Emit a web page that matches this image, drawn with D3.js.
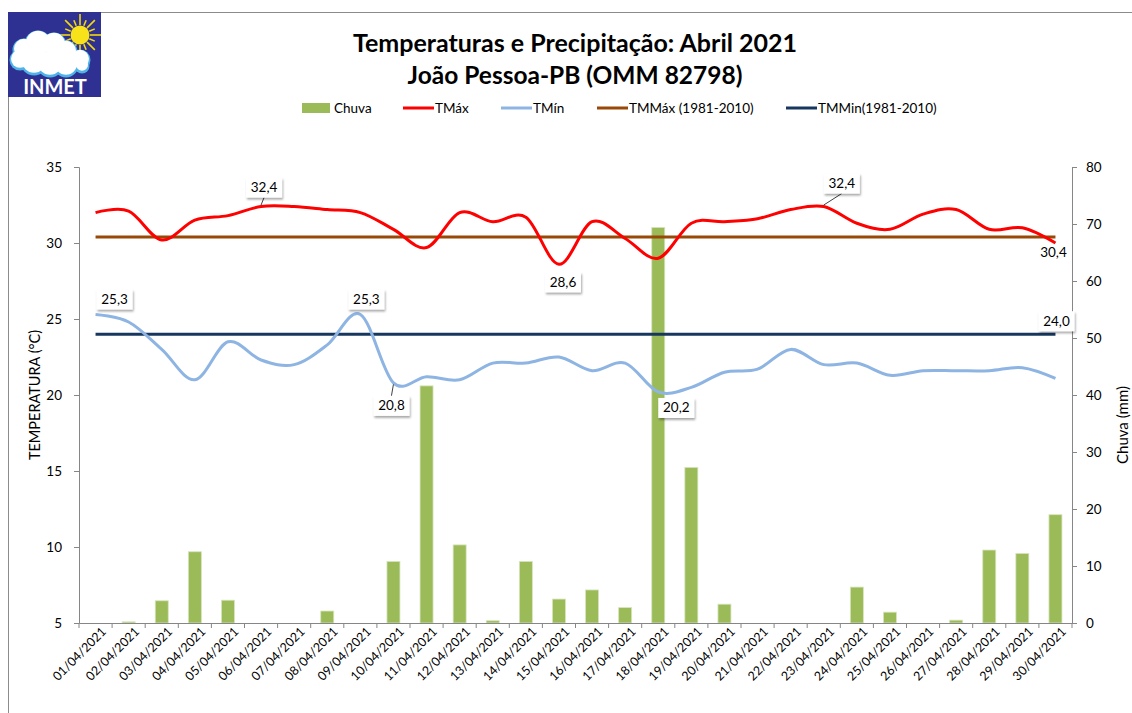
<!DOCTYPE html>
<html><head><meta charset="utf-8">
<script src="https://cdn.jsdelivr.net/npm/d3@7"></script>
<style>
body{margin:0;background:#fff}
svg{display:block}
text{font-family:Lato,'Open Sans',sans-serif}
</style>
</head><body>
<svg id="c" width="1132" height="713"></svg>
<script>
// ---------- data ----------
const dates = ["01/04/2021","02/04/2021","03/04/2021","04/04/2021","05/04/2021","06/04/2021","07/04/2021","08/04/2021","09/04/2021","10/04/2021","11/04/2021","12/04/2021","13/04/2021","14/04/2021","15/04/2021","16/04/2021","17/04/2021","18/04/2021","19/04/2021","20/04/2021","21/04/2021","22/04/2021","23/04/2021","24/04/2021","25/04/2021","26/04/2021","27/04/2021","28/04/2021","29/04/2021","30/04/2021"];
const chuva = [0,0.2,3.9,12.5,4.0,0,0,2.1,0,10.8,41.6,13.7,0.4,10.8,4.2,5.8,2.7,69.4,27.3,3.3,0,0,0,6.3,1.9,0,0.5,12.8,12.2,19.0];
const tmax  = [32.0,32.1,30.2,31.5,31.8,32.4,32.4,32.2,32.0,30.9,29.7,32.0,31.4,31.7,28.6,31.4,30.3,29.0,31.3,31.4,31.6,32.2,32.4,31.3,30.9,31.9,32.2,30.9,31.0,30.0];
const tmin  = [25.3,24.8,23.0,21.0,23.5,22.3,22.0,23.3,25.3,20.8,21.2,21.0,22.1,22.1,22.5,21.6,22.1,20.2,20.5,21.5,21.7,23.0,22.0,22.1,21.3,21.6,21.6,21.6,21.8,21.1];
const tmmax = dates.map(() => 30.4);
const tmmin = dates.map(() => 24.0);
const tempTicks = [5,10,15,20,25,30,35];
const rainTicks = [0,10,20,30,40,50,60,70,80];
const legendNames = ["Chuva","TMáx","TMín","TMMáx (1981-2010)","TMMin(1981-2010)"];
const titleLines = ["Temperaturas e Precipitação: Abril 2021","João Pessoa-PB (OMM 82798)"];

// ---------- setup ----------
const svg = d3.select("#c");
const C = {bar:"#9BBB59", tmax:"#FF0000", tmin:"#8DB4E2", tmmax:"#984807", tmmin:"#17375E", axis:"#868686"};
const L = 79, R = 1072, T = 167, B = 623;

const x = d3.scaleBand().domain(dates).range([L, R]).padding(0);
const yT = d3.scaleLinear().domain([5,35]).range([B, T]);
const yP = d3.scaleLinear().domain([0,80]).range([B, T]);
const cx = d => x(d) + x.bandwidth()/2;

const defs = svg.append("defs");
const f = defs.append("filter").attr("id","sh").attr("x","-30%").attr("y","-30%").attr("width","160%").attr("height","170%");
f.append("feDropShadow").attr("dx",1).attr("dy",2).attr("stdDeviation",1.3).attr("flood-color","#000").attr("flood-opacity",0.35);

// frame
svg.append("line").attr("x1",101).attr("x2",1132).attr("y1",12.5).attr("y2",12.5).attr("stroke","#8c8c8c").attr("stroke-width",1);
svg.append("line").attr("x1",8.5).attr("x2",8.5).attr("y1",97).attr("y2",713).attr("stroke","#8c8c8c").attr("stroke-width",1);

// logo
const lg = svg.append("g");
lg.append("rect").attr("x",8).attr("y",12).attr("width",93).attr("height",85).attr("fill","#2E3192");
const sun = lg.append("g").attr("transform","translate(80,35)");
d3.range(16).forEach(i=>{
  const a = i/16*2*Math.PI;
  sun.append("line").attr("x1",Math.cos(a)*10).attr("y1",Math.sin(a)*10)
    .attr("x2",Math.cos(a)*(i%2?16:21)).attr("y2",Math.sin(a)*(i%2?16:21))
    .attr("stroke","#F5D90A").attr("stroke-width",1.6);
});
sun.append("circle").attr("r",9.5).attr("fill","#F8E21A");
const cloud = [[24,50,10],[38,44,12],[54,45,11],[66,52,10],[80,60,9],[20,60,9],[34,62,12],[50,64,12],[66,65,11],[82,66,6]];
lg.selectAll("circle.cb").data(cloud).join("circle").attr("cx",d=>d[0]).attr("cy",d=>d[1]).attr("r",d=>d[2]+1.5).attr("fill","#4FB3E8");
lg.selectAll("circle.cw").data(cloud).join("circle").attr("cx",d=>d[0]).attr("cy",d=>d[1]-1.2).attr("r",d=>d[2]).attr("fill","#fff");
lg.append("text").attr("x",55).attr("y",94).attr("text-anchor","middle").attr("fill","#fff")
  .attr("font-size",20).attr("font-weight","bold").attr("font-family","'Open Sans',Lato,sans-serif").text("INMET");

// title
svg.selectAll("text.title").data(titleLines).join("text")
  .attr("x",575).attr("y",(d,i)=>52+i*32).attr("text-anchor","middle")
  .attr("font-size",(d,i)=>i===0?25:24.5).attr("font-weight","bold").attr("fill","#000").text(d=>d);

// legend
const legX = [302,403,501,597,786];
const legKeys = ["bar","tmax","tmin","tmmax","tmmin"];
const leg = svg.append("g");
legendNames.forEach((n,i)=>{
  const g = leg.append("g").attr("transform",`translate(${legX[i]},108)`);
  if(i===0) g.append("rect").attr("x",0).attr("y",-5).attr("width",28).attr("height",10).attr("fill",C.bar);
  else g.append("line").attr("x1",0).attr("x2",31).attr("y1",0).attr("y2",0).attr("stroke",C[legKeys[i]]).attr("stroke-width",3);
  g.append("text").attr("x",i===0?32:32).attr("y",5).attr("font-size",13.5).attr("fill","#000").text(n);
});

// bars
svg.append("g").selectAll("rect").data(dates).join("rect")
  .attr("x",(d)=>cx(d)-6.5).attr("width",13)
  .attr("y",(d,i)=>yP(chuva[i])).attr("height",(d,i)=>B-yP(chuva[i]))
  .attr("fill",C.bar).attr("stroke","#D7E4BD").attr("stroke-width",0.8);

// axes
const axL = svg.append("g").attr("transform",`translate(${L},0)`)
  .call(d3.axisLeft(yT).tickValues(tempTicks).tickSize(5).tickPadding(12).tickFormat(d3.format("d")));
const axR = svg.append("g").attr("transform",`translate(${R},0)`)
  .call(d3.axisRight(yP).tickValues(rainTicks).tickSize(5).tickPadding(9).tickFormat(d3.format("d")));
const axB = svg.append("g").attr("transform",`translate(0,${B})`)
  .call(d3.axisBottom(x).tickSize(0).tickFormat(d=>d));
[axL,axR,axB].forEach(a=>{
  a.select(".domain").attr("stroke",C.axis);
  a.selectAll(".tick line").attr("stroke",C.axis);
  a.selectAll("text").attr("font-size",13.5).attr("fill","#000").attr("font-family","Lato,sans-serif");
});
// category boundary ticks
axB.append("g").selectAll("line").data(d3.range(dates.length+1)).join("line")
  .attr("x1",i=>L+i*x.step()).attr("x2",i=>L+i*x.step()).attr("y1",0).attr("y2",5).attr("stroke",C.axis);
axB.selectAll(".tick text").attr("font-size",12.5).attr("text-anchor","end")
  .attr("transform","translate(4,2) rotate(-45)").attr("dy","0.6em").attr("dx","0");

// axis titles
svg.append("text").attr("transform","translate(40,395) rotate(-90)").attr("text-anchor","middle")
  .attr("font-size",14.5).attr("fill","#000").text("TEMPERATURA (°C)");
svg.append("text").attr("transform","translate(1128,425) rotate(-90)").attr("text-anchor","middle")
  .attr("font-size",15).attr("fill","#000").text("Chuva (mm)");

// lines
const curve = d3.curveCardinal.tension(0);
const mk = arr => d3.line().x((d,i)=>cx(dates[i])).y(d=>yT(d)).curve(curve)(arr);
const mkS = arr => d3.line().x((d,i)=>cx(dates[i])).y(d=>yT(d))(arr);
svg.append("path").attr("d",mkS(tmmax)).attr("fill","none").attr("stroke",C.tmmax).attr("stroke-width",3);
svg.append("path").attr("d",mkS(tmmin)).attr("fill","none").attr("stroke",C.tmmin).attr("stroke-width",3);
svg.append("path").attr("d",mk(tmax)).attr("fill","none").attr("stroke",C.tmax).attr("stroke-width",3);
svg.append("path").attr("d",mk(tmin)).attr("fill","none").attr("stroke",C.tmin).attr("stroke-width",3);

// data labels
const fmt = v => d3.format(".1f")(v).replace(".",",");
const ann = [
  {s:tmax,i:5,dx:3,dy:-19,lead:true,box:true},
  {s:tmin,i:0,dx:19,dy:-15,box:true},
  {s:tmin,i:8,dx:6,dy:-15,box:true},
  {s:tmin,i:9,dx:-2,dy:23,lead:true,box:true},
  {s:tmax,i:14,dx:4,dy:18,box:true},
  {s:tmin,i:17,dx:18,dy:16,box:true},
  {s:tmax,i:22,dx:18,dy:-23,lead:true,box:true},
  {s:tmmax,i:29,dx:-2,dy:16,box:false},
  {s:tmmin,i:29,dx:1,dy:-13,box:true}
];
const ag = svg.append("g");
ann.forEach(a=>{
  const px = cx(dates[a.i]), py = yT(a.s[a.i]);
  const bx = px + a.dx, by = py + a.dy;
  if(a.lead){
    const ey = a.dy<0 ? by+10 : by-10;
    ag.append("line").attr("x1",px).attr("y1",py-(a.dy<0?1.5:-1.5)).attr("x2",bx).attr("y2",ey).attr("stroke","#404040").attr("stroke-width",1);
  }
  if(a.box) ag.append("rect").attr("x",bx-18).attr("y",by-10).attr("width",36).attr("height",20).attr("fill","#fff").attr("filter","url(#sh)");
  else ag.append("rect").attr("x",bx-16).attr("y",by-8).attr("width",32).attr("height",16).attr("fill","#fff");
  ag.append("text").attr("x",bx).attr("y",by+4.5).attr("text-anchor","middle").attr("font-size",13.5).attr("fill","#000").text(fmt(a.s[a.i]));
});
</script>
</body></html>
